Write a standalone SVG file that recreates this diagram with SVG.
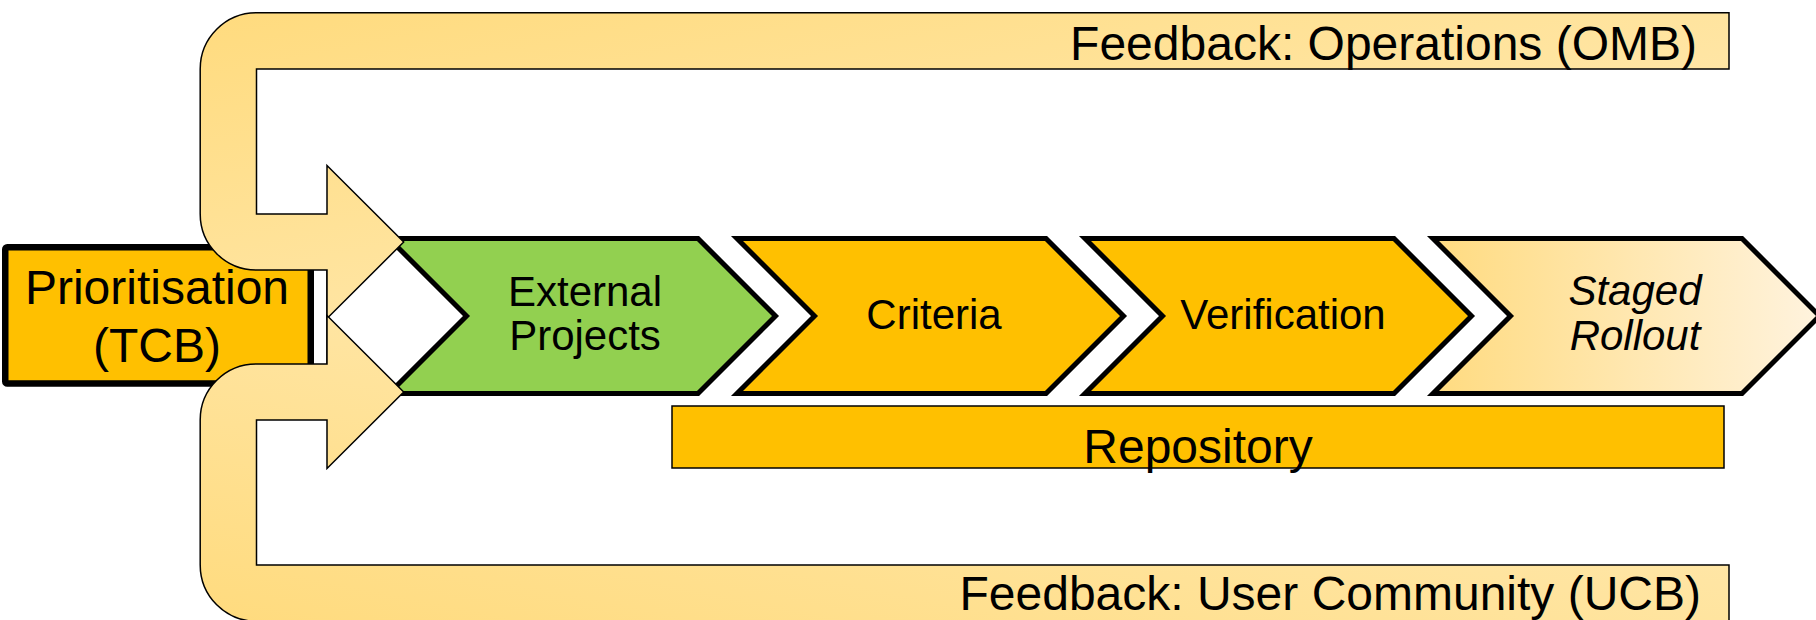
<svg xmlns="http://www.w3.org/2000/svg" width="1816" height="620" viewBox="0 0 1816 620">
<style>
text{font-family:"Liberation Sans",Arial,sans-serif;fill:#000}
.big{font-size:48px}
.mid{font-size:42px}
.chev{stroke:#000;stroke-width:5;stroke-linejoin:miter}
.fb{stroke:#000;stroke-width:1.5;fill:url(#fbGrad)}
</style>
<defs>
<linearGradient id="fbGrad" x1="0" y1="0" x2="1" y2="1">
<stop offset="0" stop-color="#FFDB7E"/>
<stop offset="1" stop-color="#FFEDC0"/>
</linearGradient>
<linearGradient id="stagedGrad" x1="0" y1="0" x2="1" y2="0">
<stop offset="0" stop-color="#FFDB80"/>
<stop offset="1" stop-color="#FFF3DE"/>
</linearGradient>
</defs>
<rect width="1816" height="620" fill="#fff"/>
<g id="prioritisation">
<rect x="5.25" y="247.25" width="305.5" height="136.25" rx="2" fill="#FFC000" stroke="#000" stroke-width="6.5"/>
<rect x="314" y="262" width="13" height="110" fill="#fff"/>
<line x1="327" y1="262" x2="327" y2="372" stroke="#000" stroke-width="1.5"/>
<text class="big" x="157" y="304" text-anchor="middle">Prioritisation</text>
<text class="big" x="157" y="362" text-anchor="middle">(TCB)</text>
</g>
<g id="external-projects">
<polygon class="chev" fill="#92D050" points="389,238.5 698,238.5 775.5,316 698,393.5 389,393.5 466.5,316"/>
<text class="mid" x="585" y="306" text-anchor="middle">External</text>
<text class="mid" x="585" y="350" text-anchor="middle">Projects</text>
</g>
<g id="criteria">
<polygon class="chev" fill="#FFC000" points="737,238.5 1046,238.5 1123.5,316 1046,393.5 737,393.5 814.5,316"/>
<text class="mid" x="934" y="329" text-anchor="middle">Criteria</text>
</g>
<g id="verification">
<polygon class="chev" fill="#FFC000" points="1085,238.5 1394,238.5 1471.5,316 1394,393.5 1085,393.5 1162.5,316"/>
<text class="mid" x="1283" y="329" text-anchor="middle">Verification</text>
</g>
<g id="staged-rollout">
<polygon class="chev" fill="url(#stagedGrad)" points="1433,238.5 1742,238.5 1819.5,316 1742,393.5 1433,393.5 1510.5,316"/>
<text class="mid" x="1635" y="305" text-anchor="middle" font-style="italic">Staged</text>
<text class="mid" x="1635" y="350" text-anchor="middle" font-style="italic">Rollout</text>
</g>
<g id="repository">
<rect x="672" y="406" width="1052" height="62" fill="#FFC000" stroke="#000" stroke-width="1.5"/>
<text class="big" x="1198" y="463" text-anchor="middle">Repository</text>
</g>
<g id="connectors">
<g id="feedback-operations">
<path class="fb" d="M1729,12.7 L256.5,12.7 A56.3,56.3 0 0 0 200.2,69 L200.2,214 A56,56 0 0 0 256.5,270 L327,270 L327,318.5 L403.7,242 L327,165.5 L327,214 L256.5,214 L256.5,69 L1729,69 Z"/>
<text class="big" x="1697" y="59.5" text-anchor="end">Feedback: Operations (OMB)</text>
</g>
<g id="feedback-user-community">
<path class="fb" transform="matrix(1 0 0 -1 0 634)" d="M1729,12.7 L256.5,12.7 A56.3,56.3 0 0 0 200.2,69 L200.2,214 A56,56 0 0 0 256.5,270 L327,270 L327,318.5 L403.7,242 L327,165.5 L327,214 L256.5,214 L256.5,69 L1729,69 Z"/>
<text class="big" x="1701" y="610" text-anchor="end">Feedback: User Community (UCB)</text>
</g>
</g>
</svg>
